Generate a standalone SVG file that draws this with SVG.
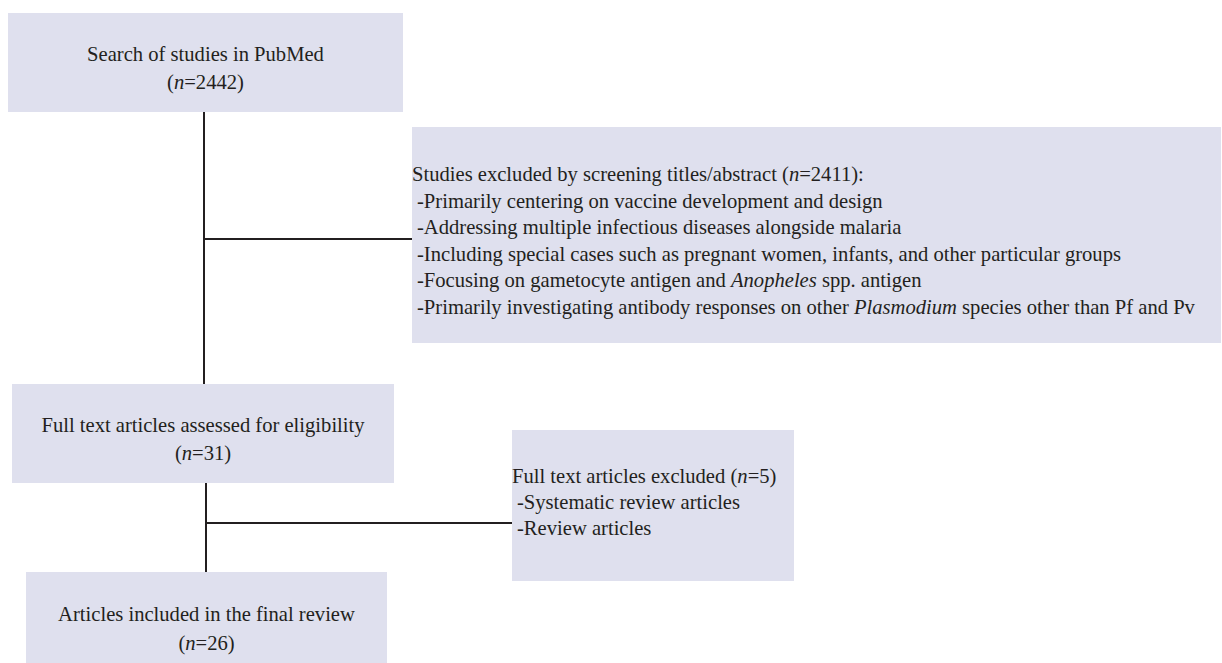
<svg xmlns="http://www.w3.org/2000/svg" width="1222" height="663" viewBox="0 0 1222 663">
<style>
.box{fill:#dfe0ee;}
.t{font-family:"Liberation Serif","Times New Roman",serif;font-size:20.6px;fill:#231f20;}
.c{text-anchor:middle;}
.ln{stroke:#231f20;stroke-width:2;fill:none;}
</style>
<rect width="1222" height="663" fill="#ffffff"/>
<g id="connectors">
<line class="ln" x1="204" y1="112" x2="204" y2="384"/>
<line class="ln" x1="204" y1="239" x2="412" y2="239"/>
<line class="ln" x1="206" y1="483" x2="206" y2="572"/>
<line class="ln" x1="206" y1="523" x2="512" y2="523"/>
</g>
<g id="search">
<rect class="box" x="8" y="13" width="395" height="99"/>
<text class="t c" x="205.5" y="61">Search of studies in PubMed</text>
<text class="t c" x="205.5" y="89">(<tspan font-style="italic">n</tspan>=2442)</text>
</g>
<g id="excluded-screening">
<rect class="box" x="412" y="127" width="809" height="216"/>
<text class="t" x="412" y="181">Studies excluded by screening titles/abstract (<tspan font-style="italic">n</tspan>=2411):</text>
<text class="t" x="417" y="207.5">-Primarily centering on vaccine development and design</text>
<text class="t" x="417" y="234">-Addressing multiple infectious diseases alongside malaria</text>
<text class="t" x="417" y="260.5">-Including special cases such as pregnant women, infants, and other particular groups</text>
<text class="t" x="417" y="287">-Focusing on gametocyte antigen and <tspan font-style="italic">Anopheles</tspan> spp. antigen</text>
<text class="t" x="417" y="313.5">-Primarily investigating antibody responses on other <tspan font-style="italic">Plasmodium</tspan> species other than Pf and Pv</text>
</g>
<g id="fulltext">
<rect class="box" x="12" y="384" width="382" height="99"/>
<text class="t c" x="203" y="432">Full text articles assessed for eligibility</text>
<text class="t c" x="203" y="460">(<tspan font-style="italic">n</tspan>=31)</text>
</g>
<g id="fulltext-excluded">
<rect class="box" x="512" y="430" width="282" height="151"/>
<text class="t" x="512" y="483">Full text articles excluded (<tspan font-style="italic">n</tspan>=5)</text>
<text class="t" x="517" y="509">-Systematic review articles</text>
<text class="t" x="517" y="535">-Review articles</text>
</g>
<g id="included">
<rect class="box" x="26" y="572" width="361" height="91"/>
<text class="t c" x="206.5" y="621">Articles included in the final review</text>
<text class="t c" x="206.5" y="650">(<tspan font-style="italic">n</tspan>=26)</text>
</g>
</svg>
